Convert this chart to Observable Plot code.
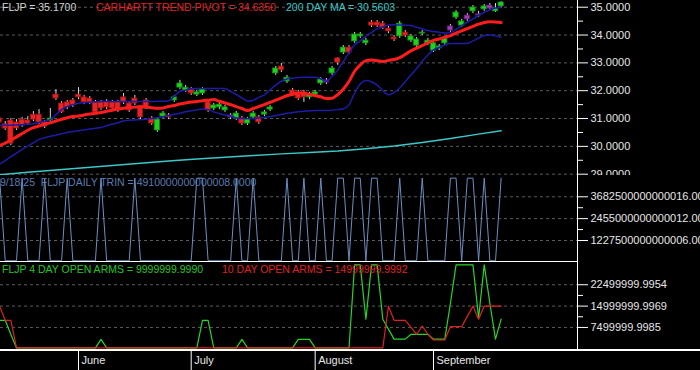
<!DOCTYPE html>
<html><head><meta charset="utf-8">
<script src="https://cdn.jsdelivr.net/npm/d3@7"></script>
<script src="https://cdn.jsdelivr.net/npm/@observablehq/plot@0.6"></script>
<style>
html,body{margin:0;padding:0;background:#000;}
#chart{position:relative;width:700px;height:370px;overflow:hidden;background:#000;font-family:"Liberation Sans",Arial,sans-serif;}
#chart svg{position:absolute;left:0;overflow:hidden;}
.t{position:absolute;white-space:pre;font-size:10.5px;line-height:10.5px;}
.sep{position:absolute;background:#fff;}
</style></head><body><div id="chart"></div>
<script>
// ---- FLJP daily, trading days 12 May 2025 .. 18 Sep 2025 (index 0..89) ----
const open = [31.00,30.79,30.93,30.86,30.96,30.93,31.14,31.14,30.86,30.93,
 31.86,31.54,31.58,31.65,31.86,31.76,31.72,31.58,31.58,31.61,
 31.58,31.58,31.76,31.54,31.72,31.40,31.65,31.00,30.57,31.07,
 31.11,31.65,32.11,32.01,32.04,31.86,31.90,31.58,31.36,31.40,
 31.29,31.04,31.00,31.00,30.82,31.04,31.04,31.14,31.32,32.62,
 32.87,32.33,32.01,31.94,31.94,31.76,31.86,32.26,32.29,32.62,
 33.16,33.37,33.55,33.77,33.95,33.70,34.45,34.45,34.41,34.23,
 33.91,33.95,34.09,33.80,33.62,34.05,33.70,33.44,33.52,33.70,
 34.16,34.63,34.34,34.56,34.85,34.74,34.92,34.95,34.85,35.03];
const close = [30.86,30.64,30.10,30.64,30.75,30.82,30.96,30.86,30.71,31.00,
 31.72,31.22,31.40,31.47,31.76,31.58,31.58,31.22,31.36,31.40,
 31.36,31.29,31.58,31.29,31.54,31.04,31.40,30.82,30.96,31.18,
 31.04,31.76,32.26,32.11,31.90,31.94,32.04,31.29,31.47,31.50,
 31.40,31.11,31.18,30.82,30.96,31.18,30.86,31.22,31.40,32.80,
 32.73,32.47,31.86,31.72,31.76,31.86,31.94,32.40,32.37,32.80,
 33.01,33.55,33.37,34.02,34.02,33.80,34.34,34.34,34.27,34.13,
 33.84,34.41,33.98,33.95,33.84,34.09,33.80,33.70,33.59,33.88,
 34.31,34.81,34.49,34.70,34.99,34.70,35.03,35.06,34.95,35.17];
const high = [31.07,30.89,31.00,30.96,31.04,31.07,31.25,31.32,30.93,31.36,
 32.04,31.61,31.65,31.72,32.11,31.83,31.79,31.65,31.65,31.68,
 31.65,31.65,31.90,31.61,31.83,31.47,31.72,31.07,31.04,31.25,
 31.18,31.83,32.37,32.19,32.11,32.01,32.11,31.65,31.54,31.58,
 31.47,31.18,31.25,31.07,31.04,31.25,31.11,31.29,31.47,32.87,
 32.98,32.55,32.08,32.01,32.01,31.94,32.01,32.47,32.44,32.87,
 33.19,33.62,33.62,34.09,34.09,33.88,34.52,34.52,34.49,34.31,
 33.98,34.49,34.16,34.02,33.91,34.16,33.88,33.77,33.66,33.95,
 34.38,34.88,34.56,34.77,35.06,34.85,35.10,35.13,35.13,35.20];
const low = [30.79,30.57,30.03,30.57,30.68,30.75,30.89,30.79,30.64,30.89,
 31.65,31.18,31.32,31.40,31.68,31.50,31.50,31.18,31.29,31.32,
 31.29,31.22,31.50,31.22,31.47,30.96,31.32,30.75,30.50,31.00,
 30.96,31.58,32.04,31.94,31.83,31.79,31.83,31.22,31.29,31.32,
 31.22,30.96,30.93,30.75,30.75,30.96,30.79,31.07,31.25,32.55,
 32.65,32.26,31.79,31.65,31.58,31.68,31.79,32.19,32.22,32.55,
 32.91,33.30,33.30,33.70,33.88,33.62,34.27,34.27,34.20,34.05,
 33.77,33.88,33.91,33.73,33.55,33.98,33.62,33.37,33.44,33.62,
 34.09,34.56,34.27,34.49,34.77,34.63,34.85,34.88,34.81,34.95];
// candle class: u = up, d = down, n = neutral
const kind = "dddddddddu"+"dddddddddd"+"dddddddduu"+"duuuduuduu"+"unuduuduuu"+
             "duddduuunu"+"duduuudddd"+"duduuuuuuu"+"nuunununuu";
const pivot = [30.03,30.12,30.22,30.34,30.46,30.58,30.67,30.73,30.80,30.85,
 30.91,30.97,31.03,31.07,31.09,31.13,31.16,31.19,31.22,31.26,
 31.30,31.34,31.37,31.39,31.41,31.43,31.41,31.39,31.37,31.38,
 31.43,31.47,31.52,31.56,31.59,31.61,31.64,31.66,31.68,31.62,
 31.56,31.50,31.43,31.36,31.29,31.36,31.43,31.50,31.58,31.66,
 31.74,31.82,31.87,31.92,31.91,31.87,31.83,31.78,31.72,31.73,
 31.86,32.06,32.33,32.70,32.93,33.08,33.10,33.08,33.05,33.09,
 33.12,33.19,33.31,33.43,33.53,33.62,33.72,33.81,33.86,33.92,
 33.98,34.07,34.15,34.23,34.31,34.39,34.45,34.48,34.47,34.45];
const bandUpper = [30.75,30.76,30.76,30.77,30.78,30.79,30.81,30.86,30.91,30.96,
 31.14,31.32,31.43,31.50,31.55,31.57,31.58,31.60,31.61,31.61,
 31.61,31.61,31.61,31.61,31.61,31.61,31.61,31.61,31.62,31.62,
 31.64,31.80,31.98,32.02,32.07,32.08,32.08,32.08,32.08,32.08,
 32.08,31.97,31.86,31.74,31.63,31.66,31.76,31.85,32.03,32.20,
 32.34,32.42,32.45,32.47,32.48,32.48,32.48,32.43,32.34,32.51,
 32.74,33.05,33.36,33.65,33.79,33.96,34.09,34.22,34.29,34.36,
 34.37,34.36,34.35,34.34,34.28,34.22,34.16,34.13,34.10,34.07,
 34.09,34.20,34.34,34.46,34.58,34.70,34.82,34.91,34.97,34.99];
const bandLower = [29.36,29.49,29.63,29.76,29.89,30.01,30.13,30.25,30.31,30.36,
 30.40,30.45,30.50,30.53,30.56,30.59,30.62,30.65,30.68,30.74,
 30.80,30.85,30.91,30.94,30.95,30.96,30.97,31.00,31.03,31.06,
 31.10,31.15,31.19,31.24,31.28,31.31,31.34,31.32,31.24,31.18,
 31.13,31.08,31.02,31.00,31.00,31.00,31.02,31.04,31.07,31.11,
 31.15,31.19,31.22,31.24,31.26,31.28,31.29,31.29,31.29,31.30,
 31.32,31.35,31.49,31.91,32.24,32.37,32.32,32.20,32.00,31.85,
 31.94,32.10,32.33,32.56,32.80,33.06,33.28,33.47,33.55,33.64,
 33.70,33.70,33.70,33.70,33.79,33.89,33.98,34.00,33.97,33.92];
// 200-day MA read every 5 trading days
const maDay = [0,5,10,15,20,25,30,35,40,45,50,55,60,65,70,75,80,85,89];
const ma200 = [28.98,29.07,29.15,29.23,29.31,29.39,29.47,29.55,29.61,29.67,29.73,29.78,29.83,29.91,30.01,30.14,30.28,30.44,30.56];
// daily TRIN, units of 1e15
const trinE15 = [4.73,0.09,0.09,0.09,4.73,0.09,0.09,0.09,4.73,0.09,
 0.09,0.09,4.73,0.09,0.09,0.09,0.09,0.09,4.73,0.09,
 0.09,0.09,0.09,0.09,4.73,0.09,0.09,0.09,0.09,0.09,
 0.09,0.09,0.09,0.09,0.09,4.73,4.73,0.09,0.09,0.09,
 0.09,0.09,4.73,0.09,0.09,4.73,0.09,0.09,0.09,0.09,
 0.09,4.73,0.09,0.09,4.73,0.09,0.09,4.73,0.09,0.09,
 4.73,4.73,0.09,4.73,4.73,0.09,4.73,4.73,0.09,0.09,
 0.09,4.73,0.09,0.09,0.09,4.73,0.09,0.09,0.09,0.09,
 4.73,4.73,0.09,4.73,4.73,0.09,4.73,0.09,0.09,4.73];
// open arms, units of 1e6
const arms4 = [10,10,5,0.3,0.3,0.3,0.3,0.3,0.3,0.3,
 0.3,0.3,0.3,0.3,0.3,0.3,0.3,0.3,3.3,0.3,
 0.3,0.3,0.3,0.3,0.3,0.3,0.3,0.3,0.3,0.3,
 0.3,0.3,0.3,0.3,0.3,0.3,10,10,0.3,0.3,
 0.3,0.3,0.3,3.3,0.3,0.3,0.3,0.3,0.3,0.3,
 0.3,0.3,0.3,3.3,3.3,3.3,0.3,0.3,0.3,0.3,
 0.3,0.3,0.3,29.5,29.5,10.4,29.5,29.5,10.4,6.9,
 3.4,3.4,3.4,5.1,5.1,5.1,5.1,3.4,3.4,3.4,
 16,29.5,29.5,29.5,29.5,10.9,29.5,16,3.4,10.4];
const arms10 = [15,10,10,0.3,0.3,0.3,0.3,0.3,0.3,0.3,
 0.3,0.3,0.3,0.3,0.3,0.3,0.3,0.3,0.3,0.3,
 0.3,0.3,0.3,0.3,0.3,0.3,0.3,0.3,0.3,0.3,
 0.3,0.3,0.3,0.3,0.3,0.3,0.3,0.3,0.3,0.3,
 0.3,0.3,0.3,0.3,0.3,0.3,0.3,0.3,0.3,0.3,
 0.3,0.3,0.3,0.3,0.3,0.3,0.3,0.3,0.3,0.3,
 0.3,0.3,0.3,0.3,0.3,0.3,0.3,0.3,0.3,15,
 10,10,10,7.5,5.1,8,5.1,3.1,3.1,3.1,
 7.8,7.8,7.8,11.4,15,10.4,15,15,15,15];
const priceTicks = [29,30,31,32,33,34,35];
const priceMinor = [29.5,30.5,31.5,32.5,33.5,34.5];
const trinTicks = [1227500000000006, 2455000000000012, 3682500000000016];
const trinMinor = [1841250000000009, 3068750000000014];
const armsTicks = [7499999.9985, 14999999.9969, 22499999.9954];
const armsMinor = [11249999.9977, 18749999.9962];
const monthName = ["June","July","August","September"];
const monthStartDay = [14,34,56,77];

// ---- build ----
const days = open.map((o,i) => ({i, o, c: close[i], h: high[i], l: low[i], k: kind[i],
  pivot: pivot[i], up: bandUpper[i], lo: bandLower[i],
  trin: trinE15[i]*1e15, a4: arms4[i]*1e6, a10: arms10[i]*1e6}));
const maRows = maDay.map((d,j) => ({i: d, v: ma200[j]}));

const FONT = '"Liberation Sans", Arial, sans-serif';
const xDom = [0.16, 102.55];
const fill = {u:"#1fd21f", d:"#e42626", n:"#a23cb4"};
const edge = {u:"#0c8a0c", d:"#9a1010", n:"#5e2070"};

function panel(height, yDomain, grid, major, minor, marks) {
  return Plot.plot({
    width: 700, height, marginLeft: 0, marginRight: 123, marginTop: 0, marginBottom: 0,
    x: {type: "linear", domain: xDom, axis: null, label: null},
    y: {type: "linear", domain: yDomain, axis: null, label: null},
    style: {background: "transparent", color: "#e6e6e6", fontFamily: FONT, fontSize: "11px", overflow: "hidden"},
    marks: [
      Plot.ruleY(grid, {stroke: "#5c5c5c", strokeDasharray: "3,3"}),
      ...marks,
      Plot.axisY({ticks: major, anchor: "right", label: null, tickSize: 10, tickPadding: 3, tickFormat: d => d.toFixed(4), stroke: "#ffffff", fill: "#e6e6e6"}),
      Plot.axisY({ticks: minor, anchor: "right", label: null, tickSize: 5, tickFormat: () => "", stroke: "#ffffff"})
    ]
  });
}

const chart = document.getElementById("chart");

const price = panel(175, [28.953, 35.241], priceTicks, priceTicks, priceMinor, [
  Plot.ruleX(days, {x: "i", y1: "l", y2: "h", stroke: "#d8d8d8", strokeWidth: 1}),
  Plot.rect(days, {x1: d => d.i - 0.47, x2: d => d.i + 0.47, y1: "o", y2: "c",
    fill: d => fill[d.k], stroke: d => edge[d.k], strokeWidth: 0.8}),
  Plot.line(maRows, {x: "i", y: "v", stroke: "#3cc8c8", strokeWidth: 1.5}),
  Plot.line(days, {x: "i", y: "lo", stroke: "#1c1ca6", strokeWidth: 1.5, curve: "monotone-x"}),
  Plot.line(days, {x: "i", y: "up", stroke: "#1c1ca6", strokeWidth: 1.5, curve: "monotone-x"}),
  Plot.line(days, {x: "i", y: "pivot", stroke: "#ff1c1c", strokeWidth: 3, curve: "monotone-x"})
]);
price.style.top = "0px";
chart.appendChild(price);

const trin = panel(89, [-0.0084e15, 4.9915e15], trinTicks, trinTicks, trinMinor, [
  Plot.line(days, {x: "i", y: "trin", stroke: "#6b8fc4", strokeWidth: 1})
]);
trin.style.top = "173px";
chart.appendChild(trin);

const arms = panel(88, [-0.597e6, 30.316e6], armsTicks, armsTicks, armsMinor, [
  Plot.line(days, {x: "i", y: "a4", stroke: "#26d626", strokeWidth: 1.2}),
  Plot.line(days, {x: "i", y: "a10", stroke: "#e02020", strokeWidth: 1.2})
]);
arms.style.top = "262px";
chart.appendChild(arms);

const months = monthName.map((m,j) => ({m, i: monthStartDay[j]}));
const dateAxis = Plot.plot({
  width: 700, height: 20, marginLeft: 0, marginRight: 0, marginTop: 0, marginBottom: 0,
  x: {type: "linear", domain: [0.16, 124.38], axis: null, label: null},
  style: {background: "transparent", color: "#e6e6e6", fontFamily: FONT, fontSize: "11px"},
  marks: [
    Plot.ruleX(months, {x: "i", stroke: "#ffffff"}),
    Plot.text(months, {x: "i", text: "m", textAnchor: "start", dx: 3, fill: "#e6e6e6", fontSize: 11})
  ]
});
dateAxis.style.top = "350px";
chart.appendChild(dateAxis);

// panel separators
function sep(l, t, w, h) { const d = document.createElement("div"); d.className = "sep";
  Object.assign(d.style, {left: l+"px", top: t+"px", width: w+"px", height: h+"px"}); chart.appendChild(d); }
sep(577, 0, 1, 350);
sep(0, 261, 578, 1);
sep(0, 349, 700, 2);

// titles
function title(txt, color, l, t) { const s = document.createElement("div"); s.className = "t";
  s.textContent = txt; Object.assign(s.style, {color, left: l+"px", top: t+"px"}); chart.appendChild(s); }
title("FLJP = 35.1700", "#d4d4d4", 2, 1.5);
title("CARHARTT TREND PIVOT = 34.6350", "#e42020", 96, 1.5);
title("200 DAY MA = 30.5603", "#36c8c8", 286, 1.5);
title("9/18/25  FLJP DAILY TRIN = 4910000000000008.0000", "#5a7cb2", 0, 176.5);
title("FLJP 4 DAY OPEN ARMS = 9999999.9990", "#22c822", 2, 263.5);
title("10 DAY OPEN ARMS = 14999999.9992", "#e02020", 222, 263.5);
</script></body></html>
